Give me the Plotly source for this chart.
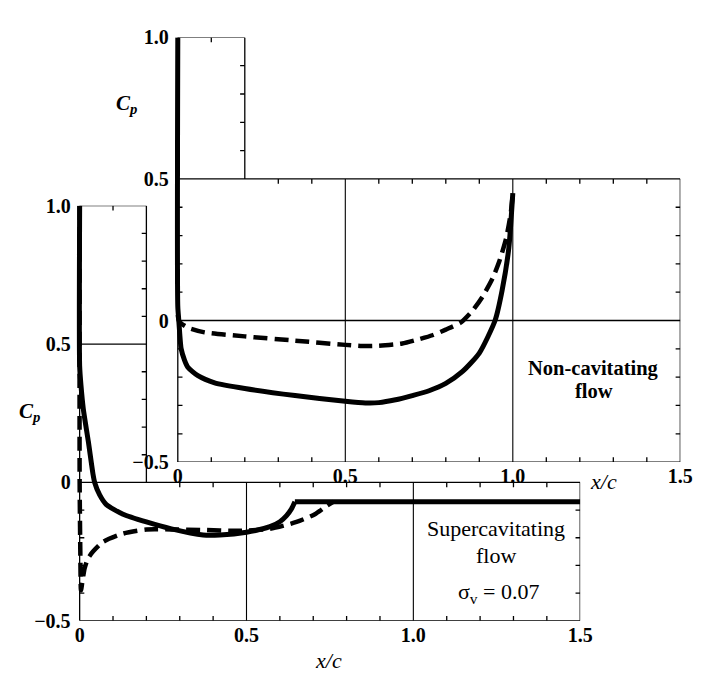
import plotly.graph_objects as go

# ---------------- data ----------------
# Non-cavitating flow (upper panel)
nc_solid_x = [0.0, 0.0, 0.003, 0.006, 0.01, 0.02, 0.03, 0.06, 0.11, 0.2, 0.35, 0.5, 0.56, 0.6,
              0.65, 0.7, 0.75, 0.8, 0.85, 0.9, 0.947, 0.968, 0.988, 1.0]
nc_solid_cp = [1.0, 0.05, 0.0, -0.05, -0.1, -0.14, -0.165, -0.195, -0.22, -0.24, -0.265, -0.285, -0.291, -0.29,
               -0.28, -0.265, -0.248, -0.222, -0.18, -0.115, 0.0, 0.106, 0.255, 0.45]
nc_dash_x = [0.0, 0.003, 0.01, 0.03, 0.08, 0.2, 0.35, 0.5, 0.55, 0.6, 0.67, 0.72, 0.76, 0.8, 0.846,
             0.88, 0.91, 0.94, 0.96, 0.98, 0.994, 1.0]
nc_dash_cp = [0.02, 0.0, -0.01, -0.025, -0.042, -0.056, -0.071, -0.086, -0.09, -0.089, -0.081, -0.066, -0.052, -0.032, -0.006,
              0.035, 0.085, 0.15, 0.21, 0.29, 0.38, 0.45]

# Supercavitating flow, sigma_v = 0.07 (lower panel)
sc_solid_x = [0.0, 0.0, 0.004, 0.011, 0.026, 0.04, 0.045, 0.06, 0.08, 0.13, 0.2, 0.275, 0.37,
              0.42, 0.5, 0.57, 0.6, 0.62, 0.635, 0.645]
sc_solid_cp = [1.0, 0.42, 0.35, 0.265, 0.148, 0.03, 0.0, -0.045, -0.08, -0.115, -0.143, -0.168, -0.19,
               -0.19, -0.18, -0.16, -0.142, -0.12, -0.095, -0.07]
sc_cavity_x = [0.645, 1.5]
sc_cavity_cp = [-0.07, -0.07]
sc_dash_x = [0.0, 0.0, 0.002, 0.004, 0.008, 0.015, 0.025, 0.04, 0.07, 0.13, 0.2, 0.275, 0.37,
             0.47, 0.57, 0.65, 0.705, 0.74, 0.76]
sc_dash_cp = [1.0, 0.0, -0.25, -0.39, -0.36, -0.31, -0.275, -0.25, -0.215, -0.185, -0.17, -0.17, -0.172,
              -0.175, -0.168, -0.143, -0.115, -0.085, -0.07]

x_tickvals = [0, 0.5, 1.0, 1.5]
x_ticktext = ["0", "0.5", "1.0", "1.5"]
y_tickvals = [-0.5, 0, 0.5, 1.0]
y_ticktext = ["\u22120.5", "0", "0.5", "1.0"]
minor_steps = [round(0.1 * i, 1) for i in range(1, 15)]

# ---------------- layout geometry ----------------
W, H = 702, 676
XPAD = 0.03
FONT = "Liberation Serif"

def xdom(x0px, x15px):
    unit = (x15px - x0px) / 1.5
    return [(x0px - XPAD * unit) / W, x15px / W]

def ydom(bot_px, top_px):
    return [1 - bot_px / H, 1 - top_px / H]

top_xd, top_yd = xdom(173, 685), ydom(458, 19)
bot_xd, bot_yd = xdom(73, 583), ydom(622, 193)

fig = go.Figure()

solid = dict(color="black", width=5, shape="spline", smoothing=0.6)
flat = dict(color="black", width=5)
dashed = dict(color="black", width=4.5, dash="14px,7px", shape="spline", smoothing=0.6)

def add(x, y, line, xa, ya):
    fig.add_trace(go.Scatter(x=x, y=y, mode="lines", line=line, xaxis=xa, yaxis=ya,
                             showlegend=False, hoverinfo="skip"))

add(sc_dash_x, sc_dash_cp, dashed, "x", "y")
add(sc_solid_x, sc_solid_cp, solid, "x", "y")
add(sc_cavity_x, sc_cavity_cp, flat, "x", "y")
add(nc_dash_x, nc_dash_cp, dashed, "x2", "y2")
add(nc_solid_x, nc_solid_cp, solid, "x2", "y2")

shapes = []
LW = 1.3

def seg(xr, yr, x0, y0, x1, y1, w=LW):
    shapes.append(dict(type="line", xref=xr, yref=yr, x0=x0, y0=y0, x1=x1, y1=y1,
                       line=dict(color="black", width=w), layer="below"))

# ---- upper panel frame ----
xr, yr = "x2", "y2"
tly, tlx = 0.017, 0.014
seg(xr, yr, 0, -0.5, 1.5, -0.5)
seg(xr, yr, 1.5, -0.5, 1.5, 0.5)
seg(xr, yr, 0, 0.5, 1.5, 0.5)
seg(xr, yr, 0, -0.5, 0, 1.0)
seg(xr, yr, 0, 1.0, 0.2, 1.0)
seg(xr, yr, 0.2, 0.5, 0.2, 1.0)
seg(xr, yr, 0, 0, 1.5, 0)
seg(xr, yr, 0.5, -0.5, 0.5, 0.5, 1.1)
seg(xr, yr, 1.0, -0.5, 1.0, 0.5, 1.1)
for v in minor_steps:
    if v in (0.5, 1.0):
        continue
    seg(xr, yr, v, -0.5, v, -0.5 + tly)
    if v > 0.2:
        seg(xr, yr, v, 0.5, v, 0.5 - tly)
for c in [-0.4, -0.3, -0.2, -0.1, 0.1, 0.2, 0.3, 0.4]:
    seg(xr, yr, 1.5, c, 1.5 - tlx, c)
    seg(xr, yr, 0, c, tlx, c)
for c in [0.6, 0.7, 0.8, 0.9]:
    seg(xr, yr, 0.2, c, 0.2 - tlx, c)
seg(xr, yr, 0.1, 1.0, 0.1, 1.0 - tly)

# ---- lower panel frame ----
xr, yr = "x", "y"
tly = 0.0175
seg(xr, yr, 0, -0.5, 1.5, -0.5)
seg(xr, yr, 1.5, -0.5, 1.5, 0)
seg(xr, yr, 0, 0, 1.5, 0)
seg(xr, yr, 0, -0.5, 0, 1.0)
seg(xr, yr, 0, 1.0, 0.2, 1.0)
seg(xr, yr, 0.2, 0, 0.2, 1.0)
seg(xr, yr, 0, 0.5, 0.2, 0.5)
seg(xr, yr, 0.5, -0.5, 0.5, 0, 1.1)
seg(xr, yr, 1.0, -0.5, 1.0, 0, 1.1)
for v in minor_steps:
    if v in (0.5, 1.0):
        continue
    seg(xr, yr, v, -0.5, v, -0.5 + tly)
    if v > 0.2:
        seg(xr, yr, v, 0, v, -tly)
for c in [-0.4, -0.3, -0.2, -0.1]:
    seg(xr, yr, 1.5, c, 1.5 - tlx, c)
    seg(xr, yr, 0, c, tlx, c)
for c in [0.1, 0.2, 0.3, 0.4, 0.6, 0.7, 0.8, 0.9]:
    seg(xr, yr, 0.2, c, 0.2 - tlx, c)
seg(xr, yr, 0.1, 1.0, 0.1, 1.0 - tly)

tickfont = dict(family=FONT, size=20, color="black", weight="bold")
xcommon = dict(range=[-XPAD, 1.5], tickvals=x_tickvals, ticktext=x_ticktext, showgrid=False,
               zeroline=False, showline=False, ticks="", tickfont=tickfont, fixedrange=True,
               ticklabelstandoff=0)
ycommon = dict(range=[-0.5, 1.0], tickvals=y_tickvals, ticktext=y_ticktext, showgrid=False,
               zeroline=False, showline=False, ticks="", tickfont=tickfont, fixedrange=True,
               ticklabelstandoff=-2)

fig.update_layout(
    width=W, height=H, margin=dict(l=0, r=0, t=0, b=0),
    paper_bgcolor="white", plot_bgcolor="rgba(0,0,0,0)",
    xaxis=dict(domain=bot_xd, anchor="y", **xcommon),
    yaxis=dict(domain=bot_yd, anchor="x", **ycommon),
    xaxis2=dict(domain=top_xd, anchor="y2", **xcommon),
    yaxis2=dict(domain=top_yd, anchor="x2", **ycommon),
    shapes=shapes,
    showlegend=False,
)

def note(text, xpx, ypx, size=20, bold=False, italic=False):
    fig.add_annotation(text=text, x=xpx / W, y=1 - ypx / H, xref="paper", yref="paper",
                       showarrow=False, xanchor="center", yanchor="middle",
                       font=dict(family=FONT, size=size, color="black",
                                 weight="bold" if bold else "normal",
                                 style="italic" if italic else "normal"))

note("C<sub>p</sub>", 121, 88, size=21, bold=True, italic=True)
note("C<sub>p</sub>", 22, 406, size=21, bold=True, italic=True)
note("x/c", 607, 478, size=22, italic=True)
note("x/c", 327, 663, size=22, italic=True)
note("Non-cavitating", 597, 361, size=20.5, bold=True)
note("flow", 597, 385, size=20.5, bold=True)
note("Supercavitating", 497, 527, size=22)
note("flow", 497, 555, size=22)
note("\u03c3<sub>v</sub> = 0.07", 500, 593, size=22)

fig.write_html("out.html")
